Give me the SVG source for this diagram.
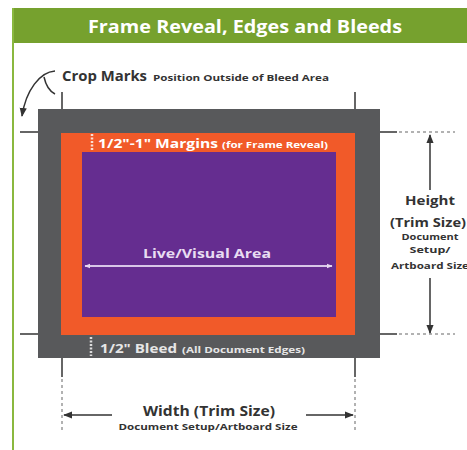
<svg xmlns="http://www.w3.org/2000/svg" width="467" height="450" viewBox="0 0 467 450">
<defs>
<style>
.t{font-family:"Open Sans","Liberation Sans",sans-serif;font-weight:700}
.dark{fill:#333}
.wh{fill:#fff}
.crop{stroke:#666;stroke-width:2;fill:none}
.dash{stroke:#999;stroke-width:1.5;stroke-dasharray:3 3;fill:none}
.arr{stroke:#333;stroke-width:1.5;fill:none}
</style>
<marker id="ah" viewBox="0 0 10 10" refX="9" refY="5" markerWidth="6" markerHeight="6" orient="auto-start-reverse">
<path d="M0,1 L10,5 L0,9 z" fill="#333"/>
</marker>
<marker id="awh" viewBox="0 0 10 10" refX="9" refY="5" markerWidth="3" markerHeight="3" orient="auto-start-reverse">
<path d="M0,1 L10,5 L0,9 z" fill="#e8d8f0"/>
</marker>
</defs>
<rect width="467" height="450" fill="#fff"/>
<g id="frame">
<rect x="12" y="8" width="455" height="35" fill="#76a12e"/>
<line x1="13" y1="8" x2="13" y2="450" stroke="#8ab83f" stroke-width="2"/>
<text class="t wh" x="245" y="33" font-size="17.5" font-weight="600" text-anchor="middle" textLength="314" lengthAdjust="spacingAndGlyphs">Frame Reveal, Edges and Bleeds</text>
</g>
<g id="bleed">
<rect x="38" y="109" width="342" height="249" fill="#58595b"/>
</g>
<g id="margin">
<rect x="61" y="133" width="294" height="202" fill="#f15a29"/>
</g>
<g id="live">
<rect x="82" y="152" width="254" height="165" fill="#652d90"/>
<text class="t" x="207" y="258" font-size="13" fill="#e8dcf2" text-anchor="middle" textLength="128" lengthAdjust="spacingAndGlyphs">Live/Visual Area</text>
</g>
<g id="connectors">
<line class="crop" x1="62" y1="92" x2="62" y2="109"/>
<line class="crop" x1="355" y1="92" x2="355" y2="109"/>
<line class="crop" x1="20" y1="132" x2="38" y2="132"/>
<line class="crop" x1="20" y1="334" x2="38" y2="334"/>
<line class="crop" x1="380" y1="132" x2="397" y2="132"/>
<line class="crop" x1="380" y1="334" x2="397" y2="334"/>
<line class="crop" x1="62" y1="358" x2="62" y2="377"/>
<line class="crop" x1="355" y1="358" x2="355" y2="377"/>
<line class="dash" x1="399" y1="132" x2="455" y2="132"/>
<line class="dash" x1="399" y1="334" x2="455" y2="334"/>
<line class="dash" x1="62" y1="379" x2="62" y2="432"/>
<line class="dash" x1="355" y1="379" x2="355" y2="432"/>
<path class="arr" d="M55,71 C40,72 26,90 22,116" marker-end="url(#ah)"/>
<path class="arr" d="M44,77 C46,86 49,91 55,94"/>
<line x1="85" y1="266" x2="332" y2="266" stroke="#d8c6e8" stroke-width="2" marker-start="url(#awh)" marker-end="url(#awh)"/>
<line x1="92" y1="134" x2="92" y2="151" stroke="#fbe0d4" stroke-width="2.5" stroke-dasharray="2 1.5"/>
<line x1="91" y1="337" x2="91" y2="356" stroke="#dcdcdc" stroke-width="2.5" stroke-dasharray="2 1.5"/>
<line class="arr" x1="430" y1="190" x2="430" y2="135" marker-end="url(#ah)"/>
<line class="arr" x1="430" y1="278" x2="430" y2="333" marker-end="url(#ah)"/>
<line class="arr" x1="112" y1="415" x2="64" y2="415" marker-end="url(#ah)"/>
<line class="arr" x1="306" y1="415" x2="353" y2="415" marker-end="url(#ah)"/>
</g>
<g id="crop-label">
<text class="t dark" x="62" y="81" font-size="14" font-weight="600" textLength="85" lengthAdjust="spacingAndGlyphs">Crop Marks</text>
<text class="t dark" x="153" y="81" font-size="9" textLength="176" lengthAdjust="spacingAndGlyphs">Position Outside of Bleed Area</text>
</g>
<g id="margin-label">
<text class="t wh" x="98" y="148" font-size="13" font-weight="600" textLength="120" lengthAdjust="spacingAndGlyphs">1/2"-1" Margins</text>
<text class="t wh" x="222" y="148" font-size="9" textLength="106" lengthAdjust="spacingAndGlyphs">(for Frame Reveal)</text>
</g>
<g id="bleed-label">
<text class="t" x="100" y="353" font-size="13" font-weight="600" fill="#e6e6e6" textLength="77" lengthAdjust="spacingAndGlyphs">1/2" Bleed</text>
<text class="t" x="182" y="353" font-size="9" fill="#e6e6e6" textLength="123" lengthAdjust="spacingAndGlyphs">(All Document Edges)</text>
</g>
<g id="height-label">
<text class="t dark" x="430" y="205" font-size="13" text-anchor="middle" textLength="50" lengthAdjust="spacingAndGlyphs">Height</text>
<text class="t dark" x="428" y="227" font-size="13" text-anchor="middle" textLength="76" lengthAdjust="spacingAndGlyphs">(Trim Size)</text>
<text class="t dark" x="430" y="240" font-size="9" text-anchor="middle" textLength="57" lengthAdjust="spacingAndGlyphs">Document</text>
<text class="t dark" x="430" y="253" font-size="9" text-anchor="middle" textLength="41" lengthAdjust="spacingAndGlyphs">Setup/</text>
<text class="t dark" x="430" y="269" font-size="9" text-anchor="middle" textLength="78" lengthAdjust="spacingAndGlyphs">Artboard Size</text>
</g>
<g id="width-label">
<text class="t dark" x="209" y="416" font-size="14" text-anchor="middle" textLength="132" lengthAdjust="spacingAndGlyphs">Width (Trim Size)</text>
<text class="t dark" x="208" y="430" font-size="9" text-anchor="middle" textLength="179" lengthAdjust="spacingAndGlyphs">Document Setup/Artboard Size</text>
</g>
</svg>
